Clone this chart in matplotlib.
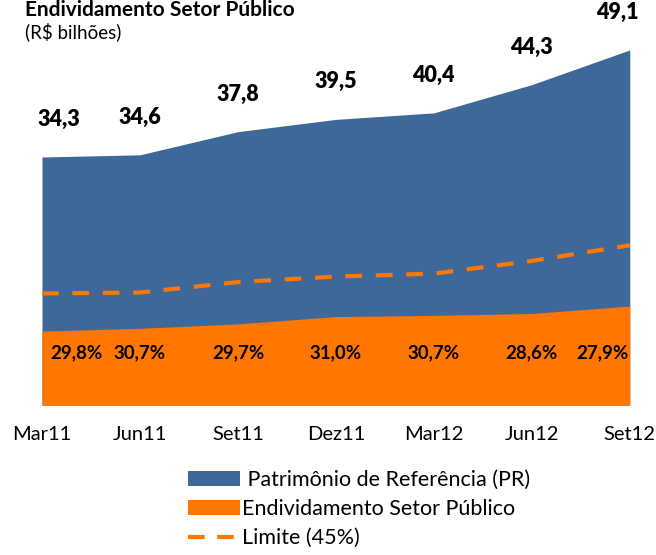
import matplotlib
matplotlib.use("Agg")
import matplotlib.pyplot as plt
from matplotlib.patches import Patch
from matplotlib.lines import Line2D

# data
periods = ["Mar11", "Jun11", "Set11", "Dez11", "Mar12", "Jun12", "Set12"]
pr_values = [34.3, 34.6, 37.8, 39.5, 40.4, 44.3, 49.1]          # R$ bilhões
debt_share = [0.298, 0.307, 0.297, 0.310, 0.307, 0.286, 0.279]   # share of PR
limit_share = 0.45

debt_values = [p * s for p, s in zip(pr_values, debt_share)]
limit_values = [p * limit_share for p in pr_values]

BLUE = "#3e6899"
ORANGE = "#ff7700"
FONT = "Lato"
DASH = (0, (4, 3.3))

plt.rcParams["font.family"] = [FONT, "DejaVu Sans"]

fig = plt.figure(figsize=(6.56, 5.55), dpi=100)
ax = fig.add_axes([0.064, 0.27, 0.896, 0.73])

x = list(range(len(periods)))
ax.fill_between(x, 0, pr_values, color=BLUE, linewidth=0)
ax.fill_between(x, 0, debt_values, color=ORANGE, linewidth=0)
ax.plot(x, limit_values, color=ORANGE, linestyle=DASH, linewidth=3)

ax.set_xlim(0, len(periods) - 1)
ax.set_ylim(0, 56)
ax.set_yticks([])
ax.set_xticks(x)
ax.set_xticklabels(periods, fontsize=14.5)
ax.tick_params(axis="x", length=0, pad=15)
for s in ax.spines.values():
    s.set_visible(False)

# value labels above the PR area
for i, v in enumerate(pr_values):
    dx = 0
    if i == 0:
        dx = 12
    elif i == len(periods) - 1:
        dx = -9
    ax.annotate(f"{v:.1f}".replace(".", ","), (i, v), xytext=(dx, 27),
                textcoords="offset points", ha="center", va="center",
                fontsize=15.5, fontweight="heavy")

# share labels inside orange area
for i, s in enumerate(debt_share):
    ha = "center"
    dx = 0
    if i == 0:
        ha, dx = "left", 6
    elif i == len(periods) - 1:
        ha, dx = "right", -1
    ax.annotate(f"{s * 100:.1f}%".replace(".", ","), (i, 7.3), xytext=(dx, 0),
                textcoords="offset points", ha=ha, va="center",
                fontsize=13.5, fontweight="bold")

fig.text(0.038, 1.0, "Endividamento Setor Público", fontsize=15,
         fontweight="bold", ha="left", va="top")
fig.text(0.038, 0.942, "(R$ bilhões)", fontsize=13.5, ha="left", va="center")

handles = [
    Patch(facecolor=BLUE, edgecolor="none"),
    Patch(facecolor=ORANGE, edgecolor="none"),
    Line2D([0], [0], color=ORANGE, linestyle=(0, (4, 3)), linewidth=3),
]
labels = [" Patrimônio de Referência (PR)", "Endividamento Setor Público",
          "Limite (45%)"]
fig.legend(handles, labels, loc="upper left", bbox_to_anchor=(0.287, 0.153),
           frameon=False, fontsize=15.5, handlelength=2.4, handleheight=0.7,
           handletextpad=0.1, labelspacing=0.42, borderaxespad=0,
           borderpad=0)

fig.savefig("out.png", dpi=100)
